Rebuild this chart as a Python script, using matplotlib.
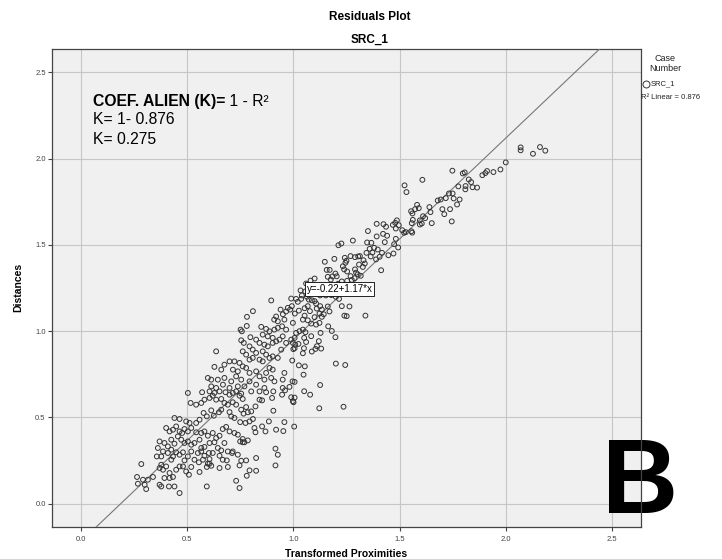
import numpy as np
import matplotlib.pyplot as plt
from matplotlib.lines import Line2D

plt.rcParams['font.family'] = ['Liberation Sans', 'DejaVu Sans']

# puntos leidos a ojo de la imagen (Transformed Proximities, Distances), por zonas
low_pts = [
    (0.504, 0.642), (0.571, 0.646), (0.606, 0.651), (0.629, 0.642), (0.653, 0.651), (0.681, 0.646),
    (0.700, 0.632), (0.715, 0.642), (0.731, 0.651), (0.755, 0.638), (0.762, 0.607), (0.747, 0.626),
    (0.802, 0.651), (0.841, 0.651), (0.872, 0.646), (0.906, 0.651), (0.900, 0.613), (0.947, 0.632),
    (0.961, 0.657), (0.517, 0.584), (0.543, 0.574), (0.567, 0.584), (0.582, 0.603), (0.606, 0.613),
    (0.621, 0.626), (0.637, 0.603), (0.661, 0.607), (0.676, 0.584), (0.692, 0.574), (0.715, 0.588),
    (0.731, 0.574), (0.755, 0.545), (0.778, 0.560), (0.766, 0.522), (0.786, 0.530), (0.802, 0.535),
    (0.822, 0.564), (0.841, 0.603), (0.853, 0.599), (0.906, 0.539),
    (0.441, 0.497), (0.465, 0.491), (0.496, 0.477), (0.512, 0.468), (0.543, 0.468), (0.559, 0.487),
    (0.578, 0.526), (0.593, 0.506), (0.614, 0.541), (0.626, 0.510), (0.650, 0.530), (0.661, 0.545),
    (0.700, 0.531), (0.708, 0.506), (0.723, 0.497), (0.750, 0.473), (0.775, 0.468), (0.794, 0.477),
    (0.810, 0.491), (0.817, 0.439), (0.853, 0.448), (0.869, 0.419), (0.885, 0.477), (0.919, 0.429),
    (0.958, 0.473), (0.953, 0.421),
    (0.402, 0.439), (0.418, 0.419), (0.434, 0.429), (0.449, 0.448), (0.465, 0.419), (0.477, 0.410),
    (0.488, 0.433), (0.504, 0.419), (0.520, 0.439), (0.543, 0.414), (0.567, 0.410), (0.582, 0.419),
    (0.598, 0.394), (0.621, 0.410), (0.637, 0.381), (0.653, 0.394), (0.668, 0.433), (0.684, 0.445),
    (0.700, 0.419), (0.723, 0.410), (0.739, 0.400), (0.762, 0.375), (0.750, 0.361), (0.770, 0.356),
    (0.786, 0.367), (0.822, 0.414),
    (0.371, 0.361), (0.394, 0.352), (0.410, 0.332), (0.426, 0.371), (0.441, 0.348), (0.457, 0.390),
    (0.473, 0.371), (0.488, 0.352), (0.504, 0.361), (0.520, 0.342), (0.535, 0.352), (0.559, 0.371),
    (0.567, 0.323), (0.551, 0.294), (0.567, 0.303), (0.582, 0.329), (0.606, 0.352), (0.629, 0.356),
    (0.645, 0.323), (0.661, 0.309), (0.676, 0.352), (0.692, 0.303), (0.715, 0.303), (0.739, 0.284),
    (0.762, 0.356),
    (0.363, 0.323), (0.358, 0.274), (0.379, 0.274), (0.387, 0.303), (0.410, 0.294), (0.426, 0.313),
    (0.426, 0.255), (0.434, 0.274), (0.449, 0.298), (0.465, 0.284), (0.481, 0.298), (0.488, 0.251),
    (0.504, 0.274), (0.520, 0.303), (0.535, 0.255), (0.556, 0.240), (0.575, 0.255), (0.598, 0.232),
    (0.606, 0.259), (0.614, 0.220), (0.582, 0.278), (0.603, 0.294), (0.621, 0.294), (0.653, 0.278),
    (0.668, 0.255), (0.687, 0.251), (0.712, 0.294), (0.755, 0.249), (0.778, 0.251), (0.825, 0.265),
    (0.916, 0.319), (0.927, 0.284), (0.916, 0.222),
    (0.285, 0.230), (0.316, 0.139), (0.340, 0.155), (0.371, 0.207), (0.379, 0.226), (0.387, 0.197),
    (0.402, 0.216), (0.418, 0.178), (0.418, 0.149), (0.434, 0.155), (0.449, 0.197), (0.465, 0.216),
    (0.481, 0.216), (0.496, 0.187), (0.509, 0.168), (0.520, 0.213), (0.559, 0.184), (0.593, 0.213),
    (0.606, 0.232), (0.653, 0.207), (0.692, 0.213), (0.747, 0.222), (0.794, 0.193), (0.825, 0.191),
    (0.781, 0.162),
    (0.265, 0.155), (0.293, 0.139), (0.269, 0.116), (0.301, 0.110), (0.308, 0.085), (0.371, 0.110),
    (0.379, 0.100), (0.394, 0.149), (0.415, 0.100), (0.441, 0.100), (0.465, 0.062), (0.593, 0.100),
    (0.731, 0.133), (0.747, 0.091),
]

mid_pts = [
    (0.781, 1.030), (0.752, 1.009), (0.758, 0.999), (0.798, 0.965), (0.755, 0.947), (0.767, 0.932),
    (0.637, 0.883), (0.927, 1.057), (0.958, 1.067),
    (0.849, 1.025), (0.872, 1.013), (0.888, 0.999), (0.911, 1.009), (0.927, 1.019), (0.947, 1.028),
    (0.966, 1.009), (0.950, 0.970), (0.935, 0.951), (0.903, 0.961), (0.880, 0.970), (0.856, 0.980),
    (0.825, 0.951), (0.841, 0.932), (0.864, 0.922), (0.880, 0.912), (0.903, 0.932), (0.919, 0.941),
    (0.966, 0.932), (0.943, 0.893), (0.794, 0.912), (0.809, 0.893), (0.762, 0.883), (0.778, 0.864),
    (0.825, 0.874), (0.856, 0.883), (0.872, 0.864), (0.888, 0.845), (0.841, 0.835), (0.856, 0.825),
    (0.809, 0.845), (0.794, 0.835), (0.903, 0.854), (0.927, 0.845),
    (0.700, 0.825), (0.723, 0.825), (0.676, 0.806), (0.661, 0.777), (0.629, 0.793), (0.747, 0.816),
    (0.762, 0.796), (0.716, 0.777), (0.739, 0.767), (0.778, 0.787), (0.794, 0.758), (0.825, 0.767),
    (0.841, 0.738), (0.872, 0.758), (0.888, 0.787), (0.903, 0.777), (0.896, 0.729), (0.864, 0.719),
    (0.911, 0.709), (0.950, 0.719), (0.958, 0.758), (0.598, 0.729), (0.614, 0.719), (0.645, 0.719),
    (0.676, 0.729), (0.708, 0.709), (0.731, 0.738), (0.755, 0.719), (0.794, 0.709), (0.825, 0.690),
    (0.950, 0.671), (0.864, 0.671), (0.614, 0.680), (0.637, 0.671), (0.669, 0.690), (0.700, 0.671),
    (0.739, 0.680), (0.770, 0.680),
]

upper_pts = [
    (1.392, 1.622), (1.424, 1.620), (1.436, 1.605), (1.468, 1.616), (1.479, 1.628), (1.487, 1.642),
    (1.496, 1.614), (1.512, 1.585), (1.521, 1.570), (1.529, 1.574), (1.482, 1.595),
    (1.351, 1.580), (1.392, 1.549), (1.422, 1.564), (1.441, 1.553), (1.430, 1.516),
    (1.347, 1.514), (1.367, 1.512), (1.380, 1.483), (1.359, 1.477), (1.372, 1.456), (1.344, 1.454),
    (1.364, 1.433), (1.397, 1.473), (1.417, 1.454), (1.406, 1.431), (1.389, 1.416),
    (1.482, 1.535), (1.474, 1.504), (1.493, 1.485), (1.471, 1.450), (1.447, 1.440), (1.413, 1.353),
    (1.330, 1.411), (1.336, 1.392), (1.327, 1.372), (1.309, 1.386), (1.295, 1.339), (1.290, 1.358),
    (1.303, 1.329), (1.317, 1.321), (1.269, 1.435), (1.290, 1.429), (1.305, 1.433), (1.313, 1.435),
    (1.242, 1.425), (1.250, 1.408), (1.245, 1.396), (1.233, 1.376), (1.239, 1.358), (1.253, 1.346),
    (1.280, 1.525), (1.226, 1.508), (1.212, 1.498), (1.193, 1.419), (1.148, 1.402), (1.171, 1.355),
    (1.157, 1.355), (1.198, 1.334), (1.204, 1.318), (1.184, 1.317), (1.162, 1.315), (1.176, 1.299),
    (1.269, 1.319), (1.288, 1.307), (1.275, 1.297), (1.253, 1.292), (1.228, 1.288), (1.211, 1.275),
    (1.100, 1.305), (1.081, 1.293), (1.060, 1.276), (1.034, 1.236), (1.056, 1.230), (1.085, 1.236),
    (1.064, 1.199), (1.037, 1.187), (1.040, 1.207), (1.013, 1.187), (0.990, 1.189), (1.021, 1.170),
    (0.993, 1.145), (0.896, 1.178), (0.810, 1.116), (0.782, 1.083),
    (1.073, 1.183), (1.087, 1.179), (1.100, 1.174), (1.107, 1.160), (1.126, 1.207), (1.153, 1.207),
    (1.178, 1.209), (1.200, 1.199), (1.215, 1.187), (1.126, 1.145), (1.110, 1.131), (1.134, 1.125),
    (1.143, 1.098), (1.134, 1.083), (1.228, 1.145), (1.264, 1.143), (1.240, 1.090), (1.251, 1.087),
    (1.339, 1.090), (1.162, 1.143), (1.068, 1.145), (1.053, 1.133), (1.026, 1.119), (0.985, 1.125),
    (0.966, 1.114), (0.951, 1.098), (0.919, 1.085), (0.910, 1.067), (0.940, 1.125), (0.974, 1.135),
    (1.007, 1.102), (1.053, 1.090), (1.078, 1.116), (1.123, 1.102), (1.100, 1.081), (1.170, 1.114),
]

right_pts = [
    (1.164, 1.028), (1.181, 1.001), (1.198, 0.965), (1.128, 0.990), (1.120, 0.942), (1.131, 0.899),
    (1.111, 0.913), (1.104, 0.897), (1.087, 0.882), (1.045, 0.872), (1.050, 0.901), (1.084, 0.971),
    (1.051, 0.961), (1.060, 0.937), (1.024, 0.926), (1.006, 0.901), (0.995, 0.830), (1.200, 0.812),
    (1.244, 0.804), (1.026, 0.802), (1.054, 0.796), (1.048, 0.748), (0.996, 0.709), (1.006, 0.706),
    (1.126, 0.688), (0.982, 0.677), (1.051, 0.652), (1.079, 0.632), (0.990, 0.617), (1.006, 0.615),
    (0.998, 0.594), (1.001, 0.588), (1.122, 0.553), (1.236, 0.562), (1.004, 0.447),
    (1.084, 1.044), (1.107, 1.038), (1.123, 1.048), (1.068, 1.063), (1.045, 1.067), (0.998, 1.048),
    (1.013, 0.990), (1.029, 1.000), (1.045, 1.009), (1.057, 0.994), (1.006, 0.961), (0.998, 0.932),
    (0.990, 0.951), (1.009, 0.922), (1.000, 0.896),
]

top_pts = [
    (2.069, 2.065), (2.069, 2.048), (2.127, 2.028), (2.160, 2.067), (2.185, 2.046), (1.999, 1.978),
    (1.974, 1.937), (1.941, 1.922), (1.911, 1.928), (1.903, 1.916), (1.889, 1.904), (1.806, 1.920),
    (1.797, 1.914), (1.748, 1.930), (1.607, 1.877), (1.523, 1.845), (1.532, 1.806), (1.825, 1.879),
    (1.836, 1.864), (1.776, 1.839), (1.810, 1.841), (1.809, 1.822), (1.843, 1.834), (1.864, 1.832),
    (1.732, 1.798), (1.749, 1.798), (1.717, 1.771), (1.754, 1.769), (1.782, 1.763), (1.770, 1.734),
    (1.679, 1.757), (1.693, 1.763), (1.640, 1.719), (1.645, 1.690), (1.701, 1.707), (1.737, 1.707),
    (1.710, 1.678), (1.745, 1.636), (1.651, 1.626), (1.582, 1.732), (1.590, 1.713), (1.573, 1.707),
    (1.554, 1.695), (1.560, 1.682), (1.610, 1.666), (1.620, 1.655), (1.562, 1.645), (1.557, 1.626),
    (1.595, 1.642), (1.604, 1.624), (1.595, 1.618), (1.555, 1.579), (1.559, 1.571),
]

# ajuste lineal que muestra SPSS y el texto del coeficiente
fit_b0 = -0.22
fit_b1 = 1.17
r2 = 0.876
k_alien = 0.275
ticks = [0.0, 0.5, 1.0, 1.5, 2.0, 2.5]

pts = low_pts + mid_pts + upper_pts + right_pts + top_pts
prox = np.array([p[0] for p in pts])
dist = np.array([p[1] for p in pts])

fig = plt.figure(figsize=(7.22, 5.59), dpi=100)
ax = fig.add_axes([0.0720, 0.0572, 0.8158, 0.8551])
ax.set_facecolor('#f0f0f0')
ax.set_xlim(-0.135, 2.635)
ax.set_ylim(-0.135, 2.635)
ax.set_xticks(ticks)
ax.set_yticks(ticks)
ax.set_xticklabels(['%.1f' % t for t in ticks])
ax.set_yticklabels(['%.1f' % t for t in ticks])
ax.set_axisbelow(True)
ax.grid(True, color='#c6c6c6', lw=0.8)
for s in ax.spines.values():
    s.set_color('#444444')
    s.set_linewidth(0.9)
ax.tick_params(labelsize=5.5, labelcolor='#444444', color='#444444', length=3, width=0.8)
ax.tick_params(axis='x', pad=3.5)
ax.tick_params(axis='y', pad=1.5)

ax.scatter(prox, dist, s=12, facecolors='none', edgecolors='#333333', linewidths=0.7, zorder=3)

xs = np.array(ax.get_xlim())
ax.plot(xs, fit_b0 + fit_b1 * xs, color='#777777', lw=0.8, zorder=2.8)
ax.set_xlim(-0.135, 2.635)

ax.text(1.062, 1.244, 'y=%.2f+%.2f*x' % (fit_b0, fit_b1), fontsize=7, va='center', ha='left',
        bbox=dict(boxstyle='square,pad=0.2', fc='white', ec='black', lw=0.6), zorder=5)

t1 = ax.text(0.0696, 0.881, 'COEF. ALIEN (K)=', transform=ax.transAxes, fontsize=11.3,
             fontweight='bold', va='baseline', zorder=6)
ax.annotate(' 1 - R²', xy=(1, 0), xycoords=t1, fontsize=11.3, va='bottom', ha='left', zorder=6)
ax.text(0.0696, 0.843, 'K= 1- %.3f' % r2, transform=ax.transAxes, fontsize=11.3, va='baseline')
ax.text(0.0696, 0.801, 'K= %.3f' % k_alien, transform=ax.transAxes, fontsize=11.3, va='baseline')

ax.text(0.9330, 0.0293, 'B', transform=ax.transAxes, fontsize=76, fontweight='bold',
        va='baseline', ha='left', clip_on=False, zorder=2)

fig.text(0.512, 0.9696, 'Residuals Plot', ha='center', va='center', fontsize=8.5, fontweight='bold')
fig.text(0.512, 0.9284, 'SRC_1', ha='center', va='center', fontsize=8.5, fontweight='bold')
fig.text(0.0249, 0.485, 'Distances', rotation=90, ha='center', va='center', fontsize=7.5, fontweight='bold')
fig.text(0.48, 0.0179, 'Transformed Proximities', ha='center', va='top', fontsize=7.5, fontweight='bold')

# leyenda a la derecha
fig.text(0.921, 0.896, 'Case', ha='center', va='center', fontsize=6.5, color='#222222')
fig.text(0.921, 0.877, 'Number', ha='center', va='center', fontsize=6.5, color='#222222')
fig.add_artist(Line2D([0.8947], [0.8497], transform=fig.transFigure, marker='o', ms=5,
                      mfc='none', mec='#333333', mew=0.7, ls='none'))
fig.text(0.9017, 0.8497, 'SRC_1', ha='left', va='center', fontsize=5.5, color='#222222')
fig.text(0.888, 0.8247, 'R² Linear = %.3f' % r2, ha='left', va='center', fontsize=5.5, color='#222222')

fig.savefig('out.png', dpi=100)
